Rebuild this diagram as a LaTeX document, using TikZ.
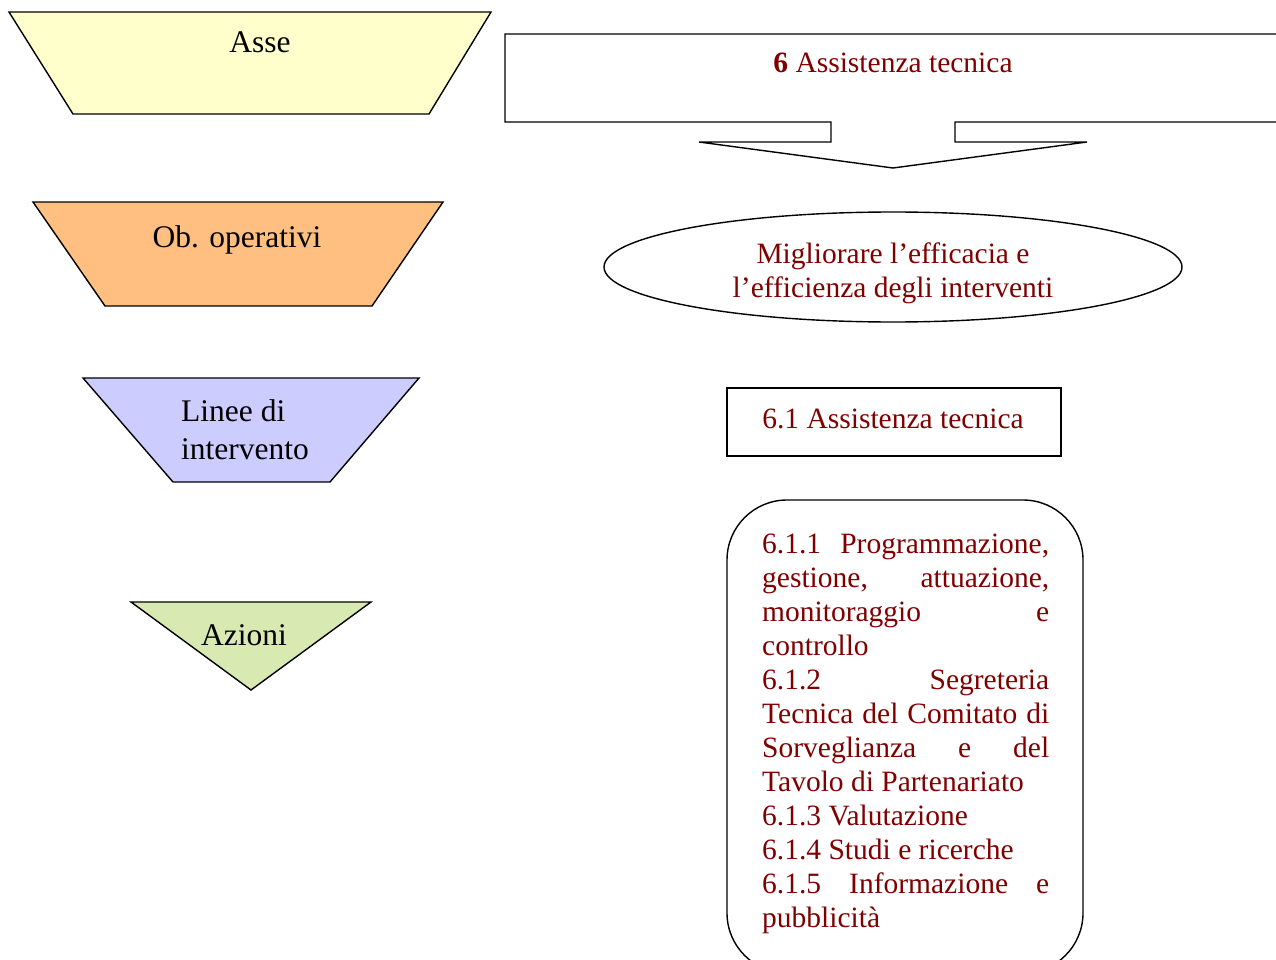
\documentclass[tikz,border=0pt]{standalone}
\usepackage{fontspec}
\setmainfont{Liberation Serif}
\usetikzlibrary{shapes.geometric}
\definecolor{axisfill}{HTML}{FFFFCC}
\definecolor{objfill}{HTML}{FFBF80}
\definecolor{linefill}{HTML}{CCCCFF}
\definecolor{actfill}{HTML}{D8E9B1}
\definecolor{darkred}{HTML}{800000}
\tikzset{
  outline/.style={draw=black, line width=1.4pt, line join=miter},
  lefttext/.style={font=\fontsize{31.5}{38}\selectfont, text=black, inner sep=0pt},
  righttext/.style={font=\fontsize{29.5}{34}\selectfont, text=darkred, inner sep=0pt},
}
\newcommand{\jline}[1]{\makebox[287pt][s]{#1}}
\begin{document}
\begin{tikzpicture}[x=1pt, y=-1pt]
\useasboundingbox (0,0) rectangle (1276,960);
\fill[white] (0,0) rectangle (1276,960);

% left column: level legend
\draw[outline, fill=axisfill] (9,12) -- (491,12) -- (429,114) -- (73,114) -- cycle;
\node[lefttext, anchor=base] (asse) at (260,53) {Asse};

\draw[outline, fill=objfill] (33,202) -- (443,202) -- (372,306) -- (105,306) -- cycle;
\node[lefttext, anchor=base] (obop) at (237,247) {Ob. operativi};

\draw[outline, fill=linefill] (83,378) -- (419,378) -- (330,482) -- (173,482) -- cycle;
% multi-line nodes: the base anchor sits on the last line
\node[lefttext, anchor=base west, align=left] (linee) at (181,459) {Linee di\\intervento};

\draw[outline, fill=actfill] (131,602) -- (371,602) -- (251,690) -- cycle;
\node[lefttext, anchor=base] (azioni) at (244,645) {Azioni};

% right column: axis 6 breakdown
\draw[outline, fill=white] (505,34) -- (1290,34) -- (1290,122) -- (955,122) -- (955,142)
  -- (1087,142) -- (893,168) -- (699,142) -- (831,142) -- (831,122) -- (505,122) -- cycle;
\node[righttext, anchor=base] (axis6) at (893,73) {\textbf{6} Assistenza tecnica};

\node[outline, ellipse, minimum width=578pt, minimum height=110pt, fill=white] (obj) at (893,267) {};
\node[righttext, anchor=base, align=center] (objtext) at (893,297)
  {Migliorare l’efficacia e\\l’efficienza degli interventi};

\node[outline, rectangle, minimum width=334pt, minimum height=68pt, fill=white] (line61) at (894,422) {};
\node[righttext, anchor=base] (line61text) at (893,428) {6.1 Assistenza tecnica};

\draw[outline, rounded corners=60pt, fill=white] (727,500) rectangle (1083,973);
\node[righttext, anchor=base west, align=left] (actions) at (762,927)
  {\jline{6.1.1 Programmazione,}\\
   \jline{gestione, attuazione,}\\
   \jline{monitoraggio e}\\
   controllo\\
   \jline{6.1.2 Segreteria}\\
   \jline{Tecnica del Comitato di}\\
   \jline{Sorveglianza e del}\\
   Tavolo di Partenariato\\
   6.1.3 Valutazione\\
   6.1.4 Studi e ricerche\\
   \jline{6.1.5 Informazione e}\\
   pubblicità};
\end{tikzpicture}
\end{document}
